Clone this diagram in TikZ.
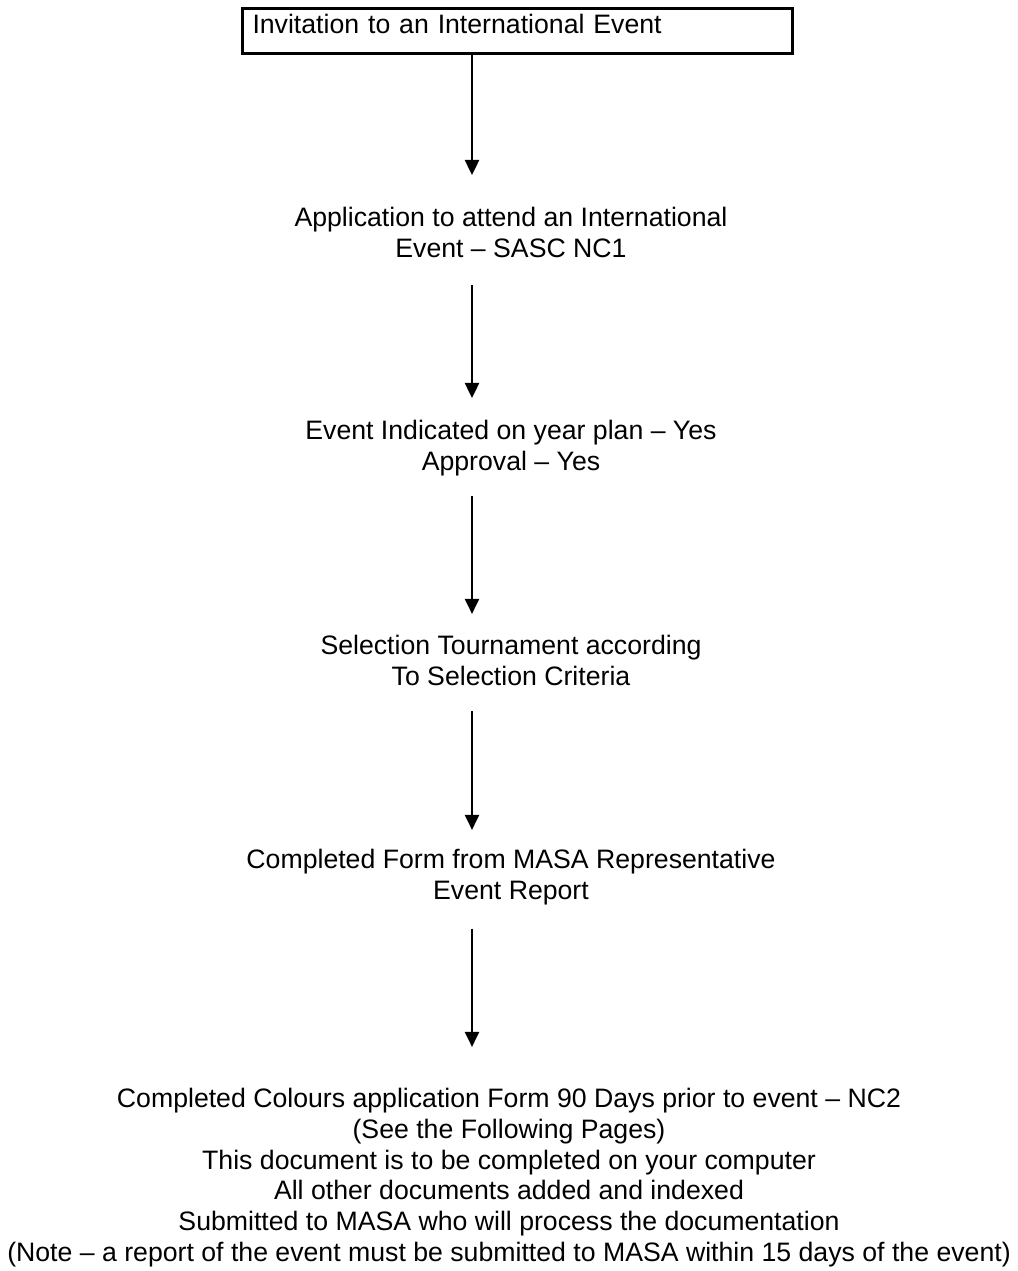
\documentclass[tikz,border=0pt]{standalone}
\usepackage{fontspec}
\setmainfont{Liberation Sans}
\usepackage{tikz}
\usetikzlibrary{arrows,arrows.meta,positioning}

\begin{document}
\begin{tikzpicture}[x=0.45pt,y=-0.45pt]
\tikzstyle{every node}=[font=\fontsize{12}{13.8}\selectfont, inner sep=0pt]
\tikzstyle{stage}=[align=center, anchor=north]
\tikzstyle{startbox}=[draw, line width=1.35pt, anchor=north west, align=left, text width=238.5pt, inner xsep=4.5pt, text height=11.25pt, text depth=9pt]
\tikzstyle{flow}=[line width=0.9pt, -{Triangle[length=6.8pt,width=6.4pt]}]

\useasboundingbox (0,0) rectangle (1017,1271);

% arrows run down this line, the texts are centred on the page
\coordinate (spine) at (472,0);

\node[startbox] (invite) at (241,7) {Invitation to an International Event};

\node[stage] (apply) at (511,207) {Application to attend an International\\Event – SASC NC1};
\node[stage] (plan) at (511,420) {Event Indicated on year plan – Yes\\Approval – Yes};
\node[stage] (select) at (511,635) {Selection Tournament according\\To Selection Criteria};
\node[stage] (masa) at (511,849) {Completed Form from MASA Representative\\Event Report};
\node[stage] (colours) at (509,1088) {Completed Colours application Form 90 Days prior to event – NC2\\
(See the Following Pages)\\
This document is to be completed on your computer\\
All other documents added and indexed\\
Submitted to MASA who will process the documentation\\
(Note – a report of the event must be submitted to MASA within 15 days of the event)};

\draw[flow, shorten >=14.4pt] (invite.south -| spine) -- (apply.north -| spine);
\draw[flow, shorten <=12.2pt, shorten >=9.9pt] (apply.south -| spine) -- (plan.north -| spine);
\draw[flow, shorten <=9pt, shorten >=9.5pt] (plan.south -| spine) -- (select.north -| spine);
\draw[flow, shorten <=11.3pt, shorten >=8.6pt] (select.south -| spine) -- (masa.north -| spine);
\draw[flow, shorten <=10.4pt, shorten >=18.5pt] (masa.south -| spine) -- (colours.north -| spine);
\end{tikzpicture}
\end{document}
